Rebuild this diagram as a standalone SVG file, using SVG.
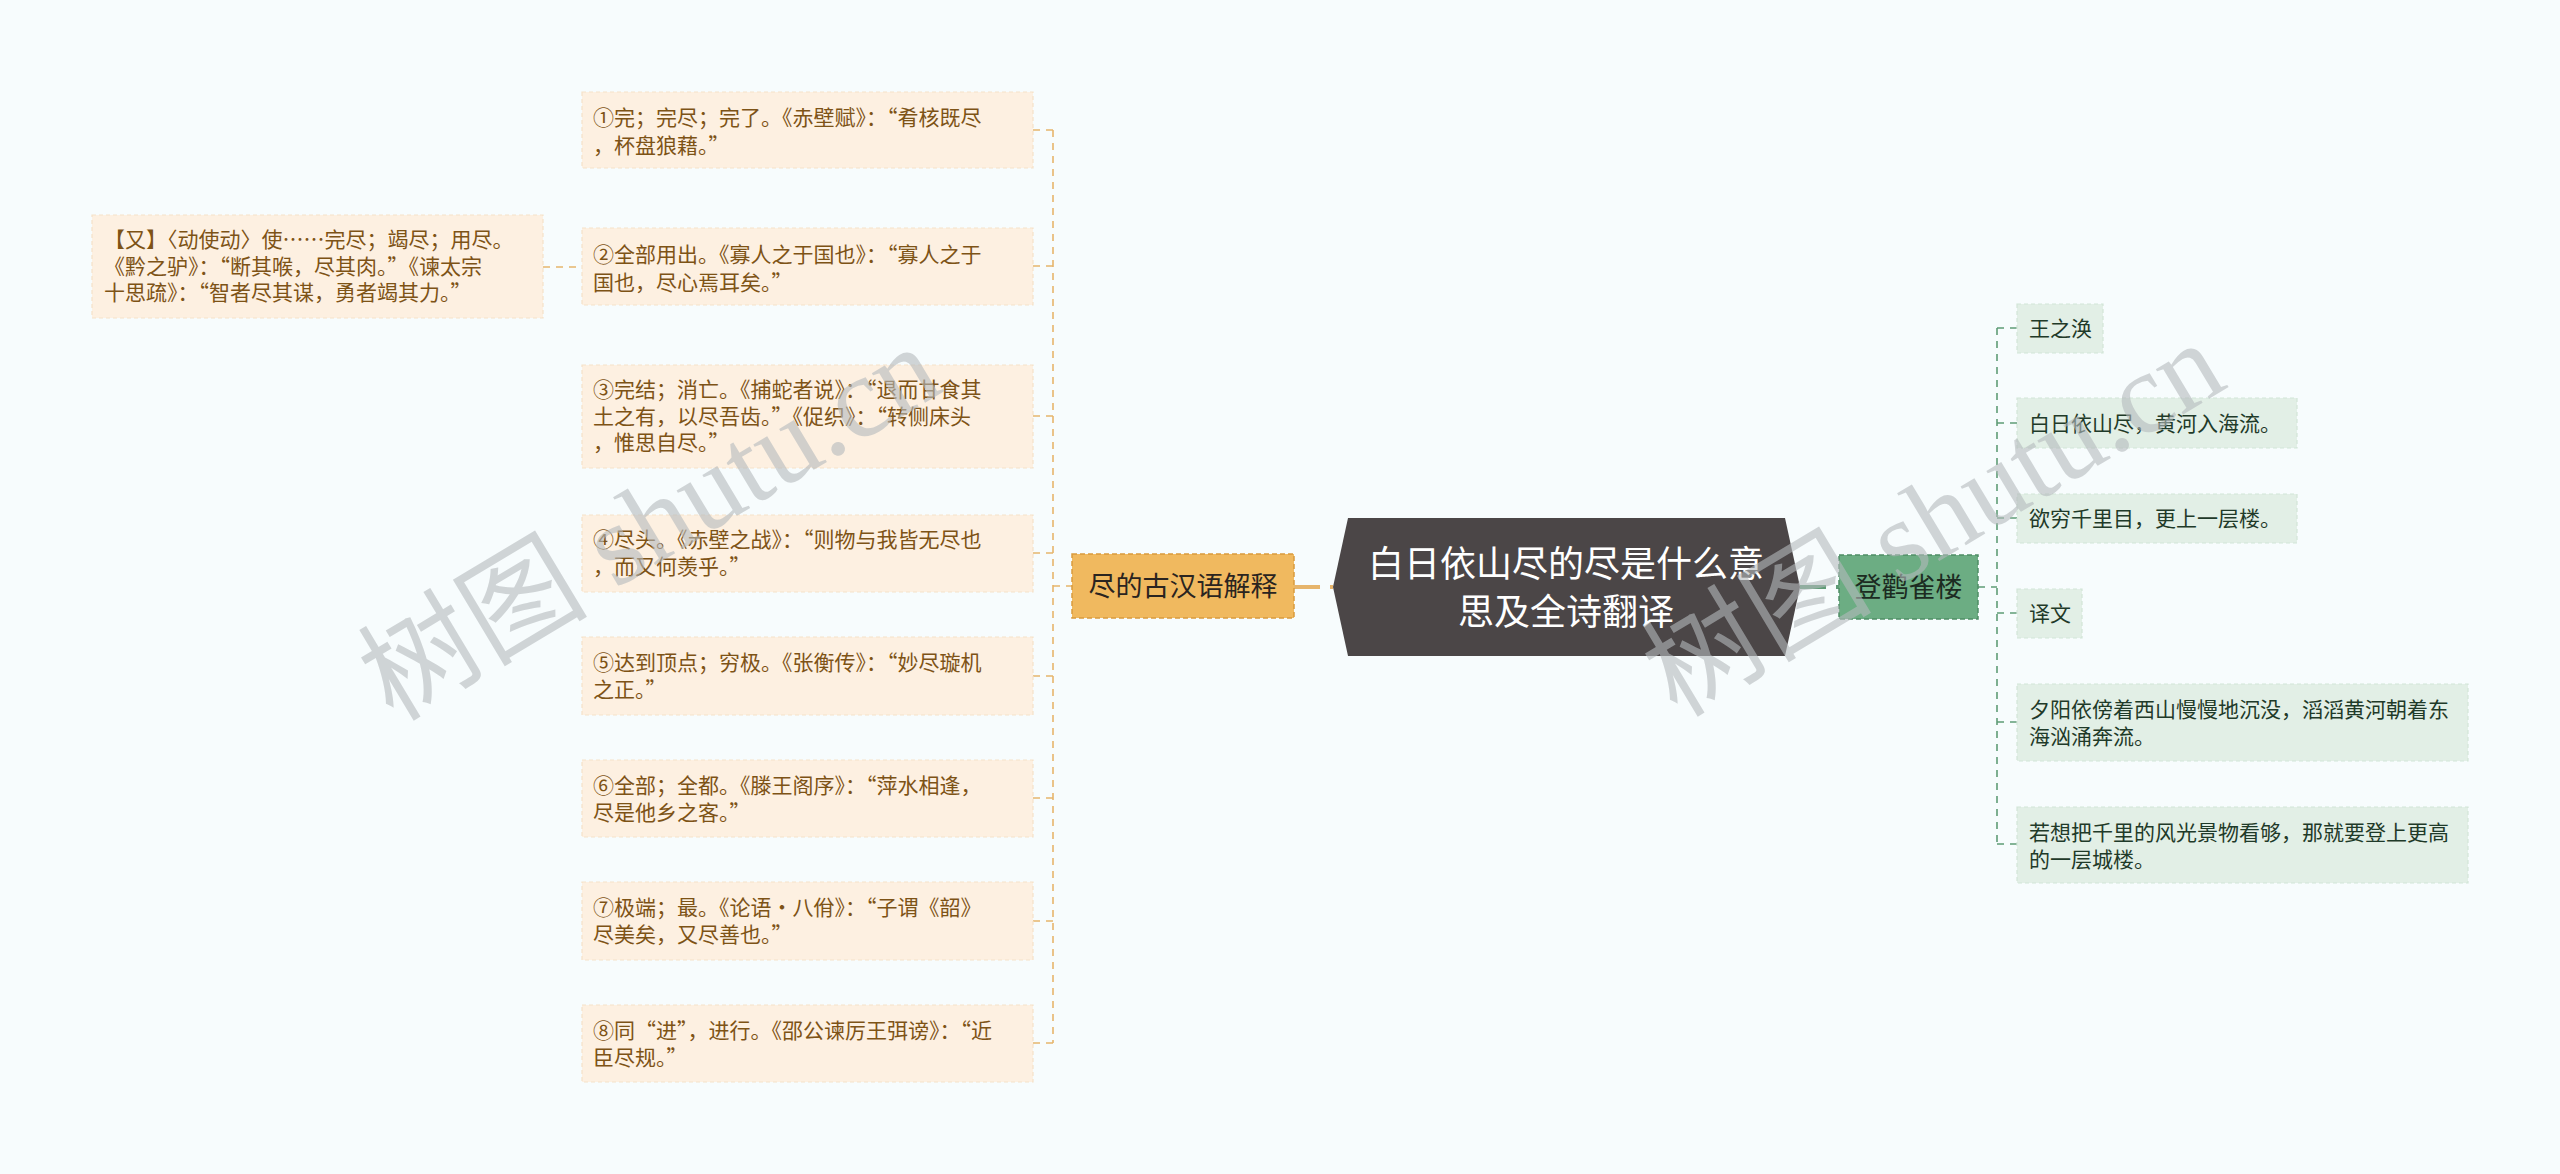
<svg xmlns="http://www.w3.org/2000/svg" width="2560" height="1174" viewBox="0 0 2560 1174">
<style>
text{font-family:"Noto Sans CJK SC","Noto Sans",sans-serif}
.lo{fill:#fdf0e1;stroke:#f5e2c9;stroke-width:1.2;stroke-dasharray:4 3}
.lg{fill:#e2efe6;stroke:#d2e5d8;stroke-width:1.2;stroke-dasharray:4 3}
.to{font-size:21px;fill:#7d5316}
.tg{font-size:21px;fill:#1f3a29}
.co{fill:none;stroke:#e6b56c;stroke-width:1.6;stroke-dasharray:7 6}
.cg{fill:none;stroke:#5f9c76;stroke-width:1.6;stroke-dasharray:7 6}
.wm{font-family:"Liberation Serif","Noto Sans CJK SC",serif;font-size:115px;fill:#b5babd;opacity:0.6}
</style>
<rect x="0" y="0" width="2560" height="1174" fill="#f7fcfd"/>

<g id="connectors">
  <path class="co" d="M1053 130V1043"/>
  <path class="co" d="M1033 130H1053M1033 266H1053M1033 416H1053M1033 553H1053M1033 676H1053M1033 798H1053M1033 921H1053M1033 1043H1053"/>
  <path class="co" d="M1053 586H1072"/>
  <path class="co" d="M543 267H582"/>
  <path fill="none" stroke="#e6b56c" stroke-width="4" stroke-dasharray="26 10" d="M1294 587H1333"/>
  <path fill="none" stroke="#5f9c76" stroke-width="4" stroke-dasharray="26 10" d="M1800 587H1839"/>
  <path class="cg" d="M1978 587H1997"/>
  <path class="cg" d="M1997 328V844"/>
  <path class="cg" d="M1997 328H2017M1997 423H2017M1997 518H2017M1997 613H2017M1997 722H2017M1997 844H2017"/>
</g>

<g id="center">
  <polygon points="1333,587 1348,518 1785,518 1800,587 1785,656 1348,656" fill="#4b4647"/>
  <text x="1566" y="577" text-anchor="middle" font-size="36" fill="#ffffff">白日依山尽的尽是什么意</text>
  <text x="1566" y="625" text-anchor="middle" font-size="36" fill="#ffffff">思及全诗翻译</text>
</g>

<g id="n-jin">
  <rect x="1072" y="554" width="222" height="64" fill="#f0b95f" stroke="#d99a3e" stroke-width="1.5" stroke-dasharray="5 3"/>
  <text x="1183" y="596" text-anchor="middle" font-size="27" fill="#2a2420">尽的古汉语解释</text>
</g>

<g id="n-deng">
  <rect x="1839" y="555" width="139" height="64" fill="#6cad83" stroke="#4f8d66" stroke-width="1.5" stroke-dasharray="5 3"/>
  <text x="1908.5" y="597" text-anchor="middle" font-size="27" fill="#1c2b21">登鹳雀楼</text>
</g>

<g id="l1">
  <rect class="lo" x="582" y="92" width="451" height="76"/>
  <text class="to" x="593" y="125">①完；完尽；完了。《赤壁赋》：“肴核既尽</text>
  <text class="to" x="593" y="153">，杯盘狼藉。”</text>
</g>
<g id="l2">
  <rect class="lo" x="582" y="228" width="451" height="77"/>
  <text class="to" x="593" y="262">②全部用出。《寡人之于国也》：“寡人之于</text>
  <text class="to" x="593" y="290">国也，尽心焉耳矣。”</text>
</g>
<g id="l2a">
  <rect class="lo" x="92" y="215" width="451" height="103"/>
  <text class="to" x="104" y="247">【又】〈动使动〉使……完尽；竭尽；用尽。</text>
  <text class="to" x="104" y="274">《黔之驴》：“断其喉，尽其肉。”《谏太宗</text>
  <text class="to" x="104" y="300">十思疏》：“智者尽其谋，勇者竭其力。”</text>
</g>
<g id="l3">
  <rect class="lo" x="582" y="365" width="451" height="103"/>
  <text class="to" x="593" y="397">③完结；消亡。《捕蛇者说》：“退而甘食其</text>
  <text class="to" x="593" y="424">土之有，以尽吾齿。”《促织》：“转侧床头</text>
  <text class="to" x="593" y="450">，惟思自尽。”</text>
</g>
<g id="l4">
  <rect class="lo" x="582" y="515" width="451" height="77"/>
  <text class="to" x="593" y="547">④尽头。《赤壁之战》：“则物与我皆无尽也</text>
  <text class="to" x="593" y="574">，而又何羡乎。”</text>
</g>
<g id="l5">
  <rect class="lo" x="582" y="637" width="451" height="78"/>
  <text class="to" x="593" y="670">⑤达到顶点；穷极。《张衡传》：“妙尽璇机</text>
  <text class="to" x="593" y="697">之正。”</text>
</g>
<g id="l6">
  <rect class="lo" x="582" y="760" width="451" height="77"/>
  <text class="to" x="593" y="793">⑥全部；全都。《滕王阁序》：“萍水相逢，</text>
  <text class="to" x="593" y="820">尽是他乡之客。”</text>
</g>
<g id="l7">
  <rect class="lo" x="582" y="882" width="451" height="78"/>
  <text class="to" x="593" y="915">⑦极端；最。《论语·八佾》：“子谓《韶》</text>
  <text class="to" x="593" y="942">尽美矣，又尽善也。”</text>
</g>
<g id="l8">
  <rect class="lo" x="582" y="1005" width="451" height="77"/>
  <text class="to" x="593" y="1038">⑧同“进”，进行。《邵公谏厉王弭谤》：“近</text>
  <text class="to" x="593" y="1065">臣尽规。”</text>
</g>

<g id="r1">
  <rect class="lg" x="2017" y="304" width="86" height="49"/>
  <text class="tg" x="2029" y="336">王之涣</text>
</g>
<g id="r2">
  <rect class="lg" x="2017" y="398" width="280" height="50"/>
  <text class="tg" x="2029" y="431">白日依山尽，黄河入海流。</text>
</g>
<g id="r3">
  <rect class="lg" x="2017" y="494" width="280" height="49"/>
  <text class="tg" x="2029" y="526">欲穷千里目，更上一层楼。</text>
</g>
<g id="r4">
  <rect class="lg" x="2017" y="589" width="65" height="49"/>
  <text class="tg" x="2029" y="621">译文</text>
</g>
<g id="r5">
  <rect class="lg" x="2017" y="684" width="451" height="77"/>
  <text class="tg" x="2029" y="717">夕阳依傍着西山慢慢地沉没，滔滔黄河朝着东</text>
  <text class="tg" x="2029" y="744">海汹涌奔流。</text>
</g>
<g id="r6">
  <rect class="lg" x="2017" y="807" width="451" height="76"/>
  <text class="tg" x="2029" y="840">若想把千里的风光景物看够，那就要登上更高</text>
  <text class="tg" x="2029" y="867">的一层城楼。</text>
</g>

<g id="watermark">
  <text class="wm" transform="translate(649,522) rotate(-31)" x="0" y="40" text-anchor="middle">树图 shutu.cn</text>
  <text class="wm" transform="translate(1933,518) rotate(-31)" x="0" y="40" text-anchor="middle">树图 shutu.cn</text>
</g>
</svg>
